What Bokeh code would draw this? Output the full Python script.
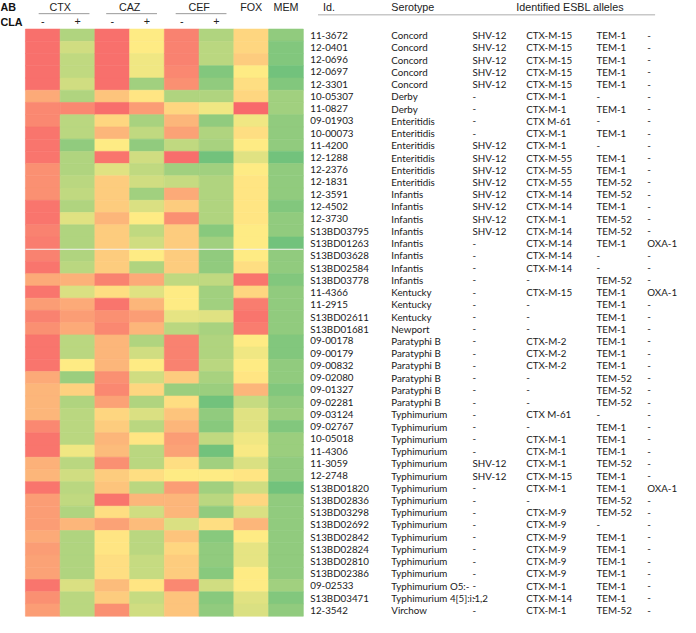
import numpy as np
from bokeh.plotting import figure
from bokeh.models import Range1d, ColumnDataSource, LinearColorMapper
from bokeh.transform import transform
from bokeh.core.properties import value
from bokeh.embed import file_html
from bokeh.resources import INLINE

# ---------------- data ----------------
antibiotics = ["CTX", "CAZ", "CEF", "FOX", "MEM"]
cla_labels = ["-", "+", "-", "+", "-", "+"]

ids = ["11-3672", "12-0401", "12-0696", "12-0697", "12-3301", "10-05307", "11-0827",
       "09-01903", "10-00073", "11-4200", "12-1288", "12-2376", "12-1831", "12-3591",
       "12-4502", "12-3730", "S13BD03795", "S13BD01263", "S13BD03628", "S13BD02584",
       "S13BD03778", "11-4366", "11-2915", "S13BD02611", "S13BD01681", "09-00178",
       "09-00179", "09-00832", "09-02080", "09-01327", "09-02281", "09-03124", "09-02767",
       "10-05018", "11-4306", "11-3059", "12-2748", "S13BD01820", "S13BD02836",
       "S13BD03298", "S13BD02692", "S13BD02842", "S13BD02824", "S13BD02810",
       "S13BD02386", "09-02533", "S13BD03471", "12-3542"]

serotypes = ["Concord"] * 5 + ["Derby"] * 2 + ["Enteritidis"] * 6 + ["Infantis"] * 8 + \
            ["Kentucky"] * 3 + ["Newport"] + ["Paratyphi B"] * 6 + ["Typhimurium"] * 14 + \
            ["Typhimurium O5:-", "Typhimurium 4[5]:i:1,2", "Virchow"]

shv = ["SHV-12"] * 5 + ["-"] * 4 + ["SHV-12"] * 8 + ["-"] * 18 + ["SHV-12", "SHV-12"] + ["-"] * 11

ctxm = ["CTX-M-15"] * 5 + ["CTX-M-1", "CTX-M-1", "CTX M-61", "CTX-M-1", "CTX-M-1",
        "CTX-M-55", "CTX-M-55", "CTX-M-55", "CTX-M-14", "CTX-M-14", "CTX-M-1", "CTX-M-14",
        "CTX-M-14", "CTX-M-14", "CTX-M-14", "-", "CTX-M-15", "-", "-", "-", "CTX-M-2",
        "CTX-M-2", "CTX-M-2", "-", "-", "-", "CTX M-61", "-", "CTX-M-1", "CTX-M-1",
        "CTX-M-1", "CTX-M-15", "CTX-M-1", "-", "CTX-M-9", "CTX-M-9", "CTX-M-9", "CTX-M-9",
        "CTX-M-9", "CTX-M-9", "CTX-M-1", "CTX-M-14", "CTX-M-1"]

tem = ["TEM-1"] * 5 + ["-", "TEM-1", "-", "TEM-1", "-", "TEM-1", "TEM-1", "TEM-52",
       "TEM-52", "TEM-1", "TEM-52", "TEM-52", "TEM-1", "-", "-", "TEM-52", "TEM-1",
       "TEM-1", "TEM-1", "TEM-1", "TEM-1", "TEM-1", "TEM-1", "TEM-52", "TEM-52", "TEM-52",
       "-", "TEM-1", "TEM-1", "TEM-1", "TEM-52", "TEM-1", "TEM-1", "TEM-52", "TEM-52", "-",
       "TEM-1", "TEM-1", "TEM-1", "TEM-1", "TEM-1", "TEM-1", "TEM-52"]

oxa = ["-"] * 17 + ["OXA-1"] + ["-"] * 3 + ["OXA-1"] + ["-"] * 15 + ["OXA-1"] + ["-"] * 10

# colour-scale values (0 = red, 0.5 = yellow, 1 = green)
ctx_minus = [0.03, 0.03, 0.03, 0.03, 0.03, 0.25, 0.12, 0.12, 0.05, 0.05, 0.05, 0.15, 0.15, 0.15,
             0.05, 0.05, 0.10, 0.08, 0.10, 0.05, 0.25, 0.05, 0.20, 0.10, 0.15, 0.05, 0.05, 0.05,
             0.25, 0.30, 0.30, 0.30, 0.12, 0.05, 0.05, 0.28, 0.30, 0.05, 0.20, 0.20, 0.20, 0.25,
             0.20, 0.22, 0.22, 0.05, 0.15, 0.20]
ctx_plus = [0.75, 0.65, 0.70, 0.70, 0.65, 0.75, 0.12, 0.72, 0.72, 0.85, 0.75, 0.75, 0.72, 0.70,
            0.75, 0.60, 0.75, 0.75, 0.75, 0.72, 0.28, 0.62, 0.25, 0.20, 0.25, 0.72, 0.72, 0.50,
            0.82, 0.40, 0.75, 0.72, 0.72, 0.72, 0.55, 0.72, 0.65, 0.72, 0.70, 0.75, 0.30, 0.75,
            0.75, 0.75, 0.75, 0.62, 0.72, 0.72]
caz_minus = [0.03, 0.03, 0.03, 0.03, 0.03, 0.35, 0.02, 0.42, 0.30, 0.50, 0.05, 0.60, 0.38, 0.38,
             0.38, 0.30, 0.38, 0.38, 0.38, 0.38, 0.10, 0.45, 0.05, 0.15, 0.12, 0.30, 0.30, 0.30,
             0.15, 0.12, 0.22, 0.42, 0.38, 0.30, 0.32, 0.15, 0.38, 0.35, 0.05, 0.45, 0.22, 0.48,
             0.48, 0.45, 0.45, 0.32, 0.38, 0.15]
caz_plus = [0.50, 0.50, 0.55, 0.55, 0.80, 0.48, 0.20, 0.78, 0.70, 0.85, 0.65, 0.70, 0.65, 0.80,
            0.62, 0.50, 0.70, 0.65, 0.50, 0.75, 0.25, 0.60, 0.30, 0.20, 0.30, 0.75, 0.65, 0.50,
            0.65, 0.42, 0.75, 0.62, 0.72, 0.48, 0.72, 0.72, 0.45, 0.72, 0.30, 0.65, 0.32, 0.72,
            0.72, 0.68, 0.68, 0.48, 0.68, 0.65]
cef_minus = [0.10, 0.10, 0.10, 0.12, 0.15, 0.75, 0.42, 0.30, 0.22, 0.70, 0.02, 0.80, 0.68, 0.25,
             0.38, 0.15, 0.38, 0.38, 0.38, 0.38, 0.70, 0.50, 0.50, 0.58, 0.72, 0.10, 0.10, 0.10,
             0.38, 0.82, 0.45, 0.35, 0.30, 0.20, 0.22, 0.45, 0.50, 0.20, 0.30, 0.30, 0.62, 0.35,
             0.42, 0.38, 0.38, 0.12, 0.35, 0.35]
cef_plus = [0.75, 0.72, 0.72, 0.90, 0.85, 0.75, 0.55, 0.85, 0.75, 0.78, 0.95, 0.80, 0.75, 0.75,
            0.75, 0.75, 0.88, 0.80, 0.85, 0.85, 0.70, 0.80, 0.80, 0.60, 0.78, 0.75, 0.75, 0.72,
            0.78, 0.82, 0.95, 0.85, 0.88, 0.70, 0.95, 0.80, 0.50, 0.80, 0.72, 0.85, 0.45, 0.88,
            0.85, 0.85, 0.88, 0.65, 0.88, 0.85]
fox = [0.42, 0.42, 0.38, 0.50, 0.45, 0.42, 0.00, 0.55, 0.45, 0.50, 0.60, 0.50, 0.48, 0.48,
       0.48, 0.48, 0.50, 0.50, 0.50, 0.45, 0.05, 0.42, 0.08, 0.05, 0.08, 0.50, 0.55, 0.50,
       0.48, 0.30, 0.68, 0.60, 0.60, 0.55, 0.52, 0.62, 0.48, 0.65, 0.42, 0.62, 0.30, 0.50,
       0.58, 0.58, 0.50, 0.50, 0.60, 0.62]
mem = [0.85, 0.90, 0.90, 0.95, 0.90, 0.80, 0.80, 0.85, 0.85, 0.85, 0.95, 0.85, 0.85, 0.85,
       0.90, 0.85, 0.85, 0.95, 0.85, 0.85, 0.90, 0.85, 0.85, 0.85, 0.85, 0.90, 0.90, 0.85,
       0.85, 0.90, 0.85, 0.82, 0.90, 0.82, 0.82, 0.85, 0.85, 0.95, 0.85, 0.85, 0.85, 0.85,
       0.85, 0.85, 0.85, 0.80, 0.90, 0.85]

columns = [ctx_minus, ctx_plus, caz_minus, caz_plus, cef_minus, cef_plus, fox, mem]

# ---------------- layout (reference pixel units) ----------------
W_REF, H_REF = 696, 633
FIG_W, FIG_H = 680, 617
S = FIG_W / W_REF
HM_X0, CW = 25.5, 35.56
HM_Y0, RH = 29.3, 12.55
n_rows = len(ids)

def fs(px):
    return value(f"{px * S:.2f}px")

# colour palette red -> yellow -> green
def lerp(c1, c2, t):
    return tuple(int(round(a + (b - a) * t)) for a, b in zip(c1, c2))

red, yel, grn = (248, 105, 107), (255, 235, 132), (99, 190, 123)
palette = []
for k in range(256):
    t = k / 255
    c = lerp(red, yel, t * 2) if t <= 0.5 else lerp(yel, grn, (t - 0.5) * 2)
    palette.append("#%02x%02x%02x" % c)
mapper = LinearColorMapper(palette=palette, low=0, high=1)

xs, ys, vs = [], [], []
for j, col in enumerate(columns):
    for i, v in enumerate(col):
        xs.append(HM_X0 + (j + 0.5) * CW)
        ys.append(HM_Y0 + (i + 0.5) * RH)
        vs.append(v)
cells = ColumnDataSource(dict(x=xs, y=ys, v=vs))

p = figure(width=FIG_W, height=FIG_H, x_range=Range1d(0, W_REF), y_range=Range1d(H_REF, 0),
           output_backend="svg", toolbar_location=None, min_border=0)
p.axis.visible = False
p.grid.visible = False
p.outline_line_color = None
p.background_fill_color = "white"

p.rect(x="x", y="y", width=CW, height=RH, source=cells,
       fill_color=transform("v", mapper), line_color=transform("v", mapper), line_width=0.6)

# separator line inside heatmap
p.segment(x0=[HM_X0], x1=[HM_X0 + 8 * CW], y0=[HM_Y0 + 18 * RH], y1=[HM_Y0 + 18 * RH],
          line_color="#f2f2f2", line_width=1.2)

# ---------------- header ----------------
hdr_font = value("Liberation Sans")
p.text(x=[0], y=[6.5], text=["AB"], text_font=hdr_font, text_font_size=fs(11),
       text_font_style="bold", text_baseline="middle", text_color="#111111")
p.text(x=[0], y=[22], text=["CLA"], text_font=hdr_font, text_font_size=fs(11),
       text_font_style="bold", text_baseline="middle", text_color="#111111")

ab_x = [HM_X0 + CW, HM_X0 + 3 * CW, HM_X0 + 5 * CW, HM_X0 + 6.5 * CW, HM_X0 + 7.5 * CW]
p.text(x=ab_x, y=[6.5] * 5, text=antibiotics, text_font=hdr_font, text_font_size=fs(11),
       text_align="center", text_baseline="middle", text_color="#222222")
cla_x = [HM_X0 + (j + 0.5) * CW for j in range(6)]
p.text(x=cla_x, y=[21.5] * 6, text=cla_labels, text_font=hdr_font, text_font_size=fs(11),
       text_align="center", text_baseline="middle", text_color="#222222")
grp_c = [HM_X0 + CW + 4, HM_X0 + 3 * CW + 2, HM_X0 + 5 * CW + 2]
p.segment(x0=[c - 26 for c in grp_c], x1=[c + 26 for c in grp_c], y0=[13.5] * 3, y1=[13.5] * 3,
          line_color="#9a9a9a", line_width=1)

p.text(x=[330, 400, 528], y=[6.5] * 3, text=["Id.", "Serotype", "Identified ESBL alleles"],
       text_font=hdr_font, text_font_size=fs(11), text_baseline="middle", text_color="#222222")
p.segment(x0=[325], x1=[670], y0=[14.5], y1=[14.5], line_color="#c8c8c8", line_width=1.5)

# ---------------- table ----------------
row_y = [HM_Y0 + (i + 0.5) * RH for i in range(n_rows)]
tbl_font = value("Lato")
for xpos, col in [(317, ids), (400, serotypes), (483, shv), (538, ctxm), (610, tem), (662, oxa)]:
    p.text(x=[xpos] * n_rows, y=row_y, text=col, text_font=tbl_font, text_font_size=fs(10),
           text_baseline="middle", text_color="#1a1a1a")

open("out.html", "w").write(file_html(p, INLINE))
